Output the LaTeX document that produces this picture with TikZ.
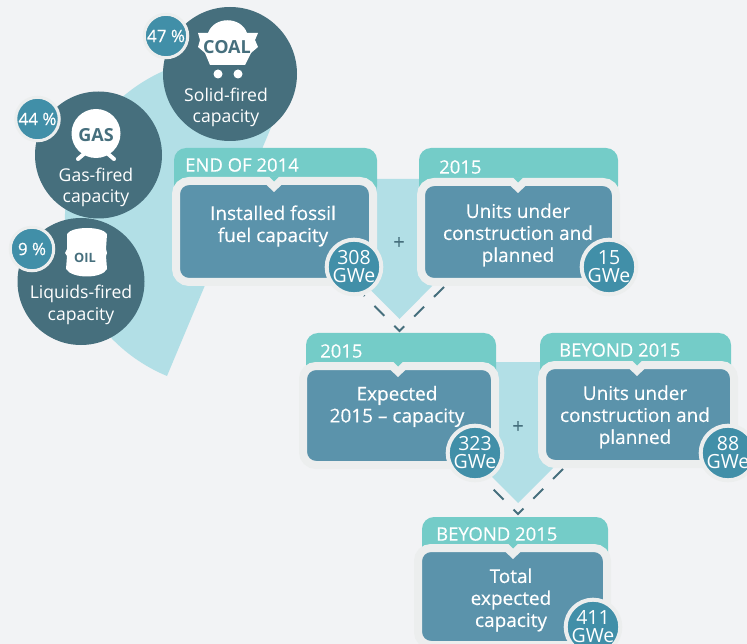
\documentclass[tikz,border=0pt]{standalone}
\usepackage{fontspec}
\setmainfont{Open Sans}
\newfontfamily\midfont[FakeBold=0.35]{Open Sans}
\definecolor{pagebg}{HTML}{F2F3F5}
\definecolor{fan}{HTML}{B2DFE6}
\definecolor{slate}{HTML}{466F7D}
\definecolor{teal}{HTML}{418FA8}
\definecolor{steel}{HTML}{5B93AB}
\definecolor{mint}{HTML}{74CCC8}
\definecolor{rim}{HTML}{ECEEEE}
\begin{document}
\begin{tikzpicture}[x=1pt, y=-1pt]
  \tikzstyle{source}=[circle, fill = slate, minimum size = 127pt, inner sep = 0pt]
  \tikzstyle{share}=[circle, fill = teal, draw = rim, line width = 3pt, minimum size = 43.5pt, inner sep = 0pt, text = white, font = \midfont\fontsize{17}{18}\selectfont]
  \tikzstyle{label}=[align = center, text = white, font = \fontsize{17.6}{21.5}\selectfont]
  \tikzstyle{badge}=[text = slate]
  \tikzstyle{tabbox}=[rectangle, fill = mint, rounded corners = 12pt, minimum height = 50pt, inner sep = 0pt]
  \tikzstyle{tabtext}=[anchor = west, inner sep = 0pt, text = white, font = \midfont\fontsize{18.5}{20}\selectfont]
  \tikzstyle{card}=[rectangle, fill = steel, draw = rim, line width = 8pt, rounded corners = 13pt, inner sep = 0pt]
  \tikzstyle{cardtext}=[align = center, text = white, font = \midfont\fontsize{19}{22}\selectfont]
  \tikzstyle{total}=[circle, fill = teal, draw = rim, line width = 4pt, minimum size = 54.6pt, inner sep = 0pt, align = center, text = white, font = \fontsize{19.5}{18}\selectfont]
  \tikzstyle{chevron}=[draw = slate, line width = 2pt, dash pattern = on 14pt off 14pt]
  \tikzstyle{plus}=[text = slate, font = \midfont\fontsize{20}{20}\selectfont]

  \clip (0,0) rectangle (747,644);
  \fill[pagebg] (0,0) rectangle (747,644);

  % fan and arrows behind the cards
  \fill[fan] (167,376) arc[start angle = 112.6, end angle = 255, radius = 166] -- (275,118) -- cycle;
  \fill[fan] (350,179) -- (440,179) -- (440,278) -- (399.5,319) -- (350,269.5) -- cycle;
  \fill[fan] (480,362) -- (560,362) -- (560,461) -- (518,503) -- (460,445) -- cycle;

  \coordinate (c1a) at (444,287);
  \coordinate (c1b) at (399.5,331);
  \coordinate (c1c) at (364,295.5);
  \coordinate (c2a) at (563,469);
  \coordinate (c2b) at (518,514);
  \coordinate (c2c) at (483,479);
  \draw[chevron] (c1a) -- (c1b) -- (c1c);
  \draw[chevron] (c2a) -- (c2b) -- (c2c);

  % sources
  \node[source, minimum size = 134pt] (coal) at (230,74) { };
  \node[source] (gas) at (98.5,155) { };
  \node[source] (oil) at (81,281.5) { };

  \fill[white] (198,33) -- (208,33) .. controls (214,16) and (241,16) .. (247,33) -- (258,33) -- (255,40) -- (258,47) -- (251,53) -- (245,65) -- (210,65) -- (205,53) -- (198,47) -- (200,40) -- cycle;
  \fill[white] (218,74) circle (4.5) (238,74) circle (4.5);
  \node[badge, font = \bfseries\fontsize{18}{20}\selectfont] (coaltext) at (227,47) {COAL};

  \draw[white, line width = 4pt, line cap = round] (78,159) -- (85,153) (114,159) -- (107,153);
  \fill[white] (96,133.5) circle (24.5);
  \node[badge, font = \bfseries\fontsize{18}{20}\selectfont] (gastext) at (96,135) {GAS};

  \fill[white] (67,234) .. controls (72,226) and (102,226) .. (107,234) -- (106,249) -- (107,253) -- (106,256) -- (107,269) .. controls (102,279) and (72,279) .. (66,269) -- (67,256) -- (65,253) -- (67,249) -- cycle;
  \node[badge, font = \bfseries\fontsize{12.8}{14}\selectfont] (oiltext) at (85,258) {OIL};

  \node[label] (solid) at (226,107.5) {Solid-fired\\capacity};
  \node[label] (gasfired) at (96,187.5) {Gas-fired\\capacity};
  \node[label] (liquid) at (81,305) {Liquids-fired\\capacity};

  \node[share] (pcoal) at (166,36) {47 \%};
  \node[share] (pgas) at (37.5,119) {44 \%};
  \node[share] (poil) at (32,249) {9 \%};

  % cards
  \node[tabbox, minimum width = 203pt] (tab1) at (275.5,173) { };
  \node[tabbox, minimum width = 199pt] (tab2) at (518.5,173) { };
  \node[tabbox, minimum width = 190pt] (tab3) at (401,358) { };
  \node[tabbox, minimum width = 191pt] (tab4) at (635.5,358) { };
  \node[tabbox, minimum width = 186pt] (tab5) at (515,542) { };

  \node[card, minimum width = 197pt, minimum height = 101pt] (card1) at (274.5,231.5) { };
  \node[card, minimum width = 195pt, minimum height = 100pt] (card2) at (518.5,232) { };
  \node[card, minimum width = 192pt, minimum height = 99pt] (card3) at (399,415.5) { };
  \node[card, minimum width = 192pt, minimum height = 99pt] (card4) at (638,414.5) { };
  \node[card, minimum width = 189pt, minimum height = 97pt] (card5) at (512.5,596.5) { };

  \fill[mint] (269,176.5) -- (279,176.5) -- (274,181.5) -- cycle;
  \fill[rim] (266,184.5) -- (282,184.5) -- (274,192) -- cycle;
  \fill[mint] (513,177.5) -- (523,177.5) -- (518,182.5) -- cycle;
  \fill[rim] (510,185.5) -- (526,185.5) -- (518,193) -- cycle;
  \fill[mint] (393,361.5) -- (403,361.5) -- (398,366.5) -- cycle;
  \fill[rim] (390,369.5) -- (406,369.5) -- (398,377) -- cycle;
  \fill[mint] (632,360.5) -- (642,360.5) -- (637,365.5) -- cycle;
  \fill[rim] (629,368.5) -- (645,368.5) -- (637,376) -- cycle;
  \fill[mint] (508,543.5) -- (518,543.5) -- (513,548.5) -- cycle;
  \fill[rim] (505,551.5) -- (521,551.5) -- (513,559) -- cycle;

  \node[tabtext] (year1) at (185,165) {END OF 2014};
  \node[tabtext] (year2) at (439,167) {2015};
  \node[tabtext] (year3) at (320,351) {2015};
  \node[tabtext] (year4) at (559,350) {BEYOND 2015};
  \node[tabtext] (year5) at (436,534) {BEYOND 2015};

  \node[cardtext] (text1) at (273,226) {Installed fossil\\fuel capacity};
  \node[cardtext] (text2) at (518,235) {Units under\\construction and\\planned};
  \node[cardtext] (text3) at (397,406.5) {Expected\\2015 – capacity};
  \node[cardtext] (text4) at (635,417) {Units under\\construction and\\planned};
  \node[cardtext] (text5) at (511,600) {Total\\expected\\capacity};

  \node[plus] (plus1) at (399,243) {+};
  \node[plus] (plus2) at (518,427) {+};

  \node[total] (gwe1) at (354,267) {308\\GWe};
  \node[total] (gwe2) at (609,267) {15\\GWe};
  \node[total] (gwe3) at (475,453) {323\\GWe};
  \node[total] (gwe4) at (728,453) {88\\GWe};
  \node[total] (gwe5) at (593,627) {411\\GWe};
\end{tikzpicture}
\end{document}
